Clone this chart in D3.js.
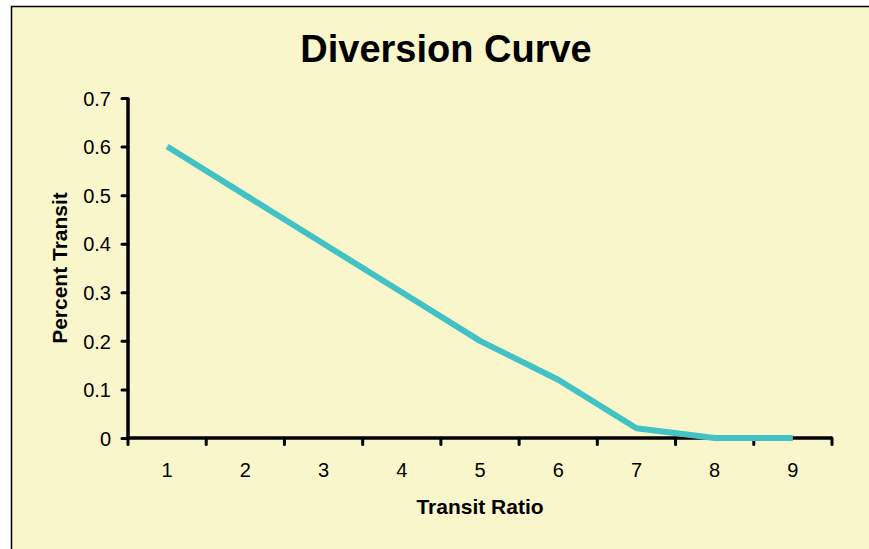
<!DOCTYPE html>
<html>
<head>
<meta charset="utf-8">
<script src="https://cdn.jsdelivr.net/npm/d3@7"></script>
<style>
  html, body { margin: 0; padding: 0; background: #ffffff; }
  svg { display: block; }
  text { font-family: "Liberation Sans", Arial, sans-serif; fill: #000; }
</style>
</head>
<body>
<svg id="chart" width="869" height="549"></svg>
<script>
// Diversion curve: share of trips taking transit by transit ratio
const categories = ["1", "2", "3", "4", "5", "6", "7", "8", "9"];
const percentTransit = [0.6, 0.5, 0.4, 0.3, 0.2, 0.12, 0.02, 0, 0];
const yTicks = [0, 0.1, 0.2, 0.3, 0.4, 0.5, 0.6, 0.7];

const svg = d3.select("#chart");
const W = 869, H = 549;

// chart area frame
svg.append("rect")
  .attr("x", 11.5).attr("y", 6.5)
  .attr("width", W + 10).attr("height", H + 10)
  .attr("fill", "#FAF6CC")
  .attr("stroke", "#000").attr("stroke-width", 1.5);

const plot = { left: 128, right: 832, top: 98, bottom: 438 };

const x = d3.scaleBand()
  .domain(categories)
  .range([plot.left, plot.right])
  .paddingInner(0).paddingOuter(0);

const y = d3.scaleLinear()
  .domain([0, 0.7])
  .range([plot.bottom, plot.top]);

// title
svg.append("text")
  .attr("x", 446).attr("y", 62)
  .attr("text-anchor", "middle")
  .style("font-size", "38px").style("font-weight", "bold")
  .text("Diversion Curve");

// y axis
const yAxis = d3.axisLeft(y).tickValues(yTicks)
  .tickFormat(d => d === 0 ? "0" : d3.format(".1f")(d))
  .tickSize(6).tickPadding(11);
const gy = svg.append("g").attr("transform", `translate(${plot.left},0)`).call(yAxis);
gy.select(".domain").remove();
gy.selectAll(".tick line").attr("stroke", "#000").attr("stroke-width", 3).attr("stroke-linecap", "round");
gy.selectAll(".tick text").style("font-size", "20px").attr("dy", "0.36em");
gy.append("line")
  .attr("x1", 0).attr("x2", 0)
  .attr("y1", plot.top).attr("y2", plot.bottom)
  .attr("stroke", "#000").attr("stroke-width", 3.5);

// x axis: ticks sit on category boundaries, labels on centers
const boundaries = d3.range(categories.length + 1).map(i => plot.left + i * x.bandwidth());
const gx = svg.append("g");
gx.selectAll("line.tick")
  .data(boundaries)
  .join("line")
  .attr("class", "tick")
  .attr("x1", d => d).attr("x2", d => d)
  .attr("y1", plot.bottom).attr("y2", plot.bottom + 6.5)
  .attr("stroke", "#000").attr("stroke-width", 3).attr("stroke-linecap", "round");
gx.selectAll("text")
  .data(categories)
  .join("text")
  .attr("x", d => x(d) + x.bandwidth() / 2)
  .attr("y", 477)
  .attr("text-anchor", "middle")
  .style("font-size", "20px")
  .text(d => d);
gx.append("line")
  .attr("x1", plot.left).attr("x2", plot.right)
  .attr("y1", plot.bottom).attr("y2", plot.bottom)
  .attr("stroke", "#000").attr("stroke-width", 3.5);

// axis titles
svg.append("text")
  .attr("x", 480).attr("y", 514)
  .attr("text-anchor", "middle")
  .style("font-size", "21px").style("font-weight", "bold")
  .text("Transit Ratio");
svg.append("text")
  .attr("transform", "translate(67,268) rotate(-90)")
  .attr("text-anchor", "middle")
  .style("font-size", "21px").style("font-weight", "bold")
  .text("Percent Transit");

// the curve
const line = d3.line()
  .x((d, i) => x(categories[i]) + x.bandwidth() / 2)
  .y(d => y(d));
svg.append("path")
  .datum(percentTransit)
  .attr("d", line)
  .attr("fill", "none")
  .attr("stroke", "#42C2C4")
  .attr("stroke-width", 6)
  .attr("stroke-linejoin", "round")
  .attr("stroke-linecap", "butt");
</script>
</body>
</html>
